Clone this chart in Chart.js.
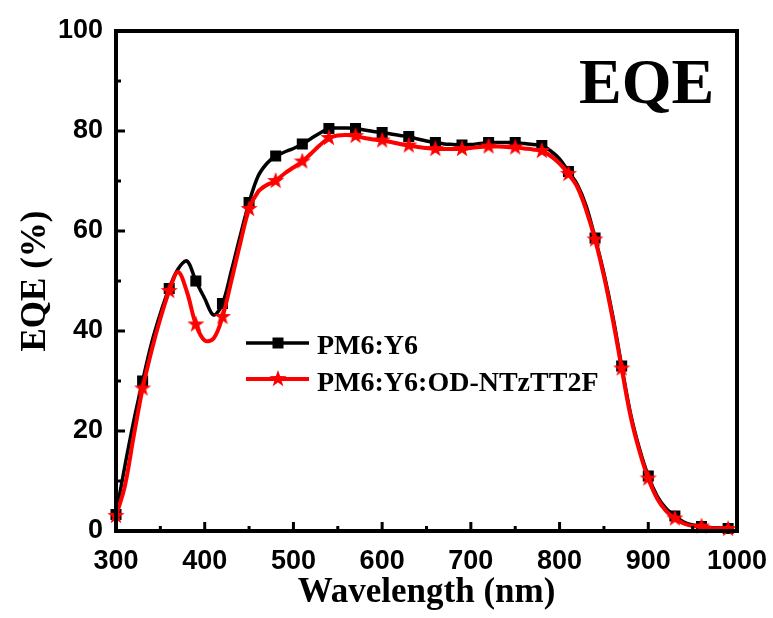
<!DOCTYPE html>
<html>
<head>
<meta charset="utf-8">
<script src="https://cdn.jsdelivr.net/npm/chart.js@4.4.1/dist/chart.umd.min.js"></script>
<style>
  html, body { margin: 0; background: #fff; }
  #wrap { width: 773px; height: 618px; }
</style>
</head>
<body>
<div id="wrap"><canvas id="eqeChart"></canvas></div>
<script>
// wavelength (nm) and EQE (%), 10 nm steps
const wavelengths = [300, 310, 320, 330, 340, 350, 360, 370, 380, 390,
  400, 410, 420, 430, 440, 450, 460, 470, 480, 490,
  500, 510, 520, 530, 540, 550, 560, 570, 580, 590,
  600, 610, 620, 630, 640, 650, 660, 670, 680, 690,
  700, 710, 720, 730, 740, 750, 760, 770, 780, 790,
  800, 810, 820, 830, 840, 850, 860, 870, 880, 890,
  900, 910, 920, 930, 940, 950, 960, 970, 980, 990];
const eqeBinary = [3.3, 13, 22, 30, 37.5, 43.5, 48.5, 52.4, 54, 50,
  46.5, 43.2, 45.5, 52, 59, 65.7, 70.9, 73.5, 75, 75.8,
  76.5, 77.4, 78.5, 79.6, 80.5, 80.6, 80.6, 80.5, 80.2, 79.9,
  79.7, 79.4, 79.1, 78.9, 78.4, 78, 77.7, 77.4, 77.3, 77.2,
  77.3, 77.5, 77.7, 77.7, 77.7, 77.7, 77.5, 77.3, 77.1, 76,
  74.4, 71.9, 69.3, 65, 58.6, 51.5, 43, 33, 23.5, 16.5,
  11, 7, 4.5, 3, 1.8, 1.2, 0.9, 0.7, 0.6, 0.5];
const eqeTernary = [3, 9, 19, 28.5, 36, 42.5, 48, 51.8, 47.8, 41.3,
  38.1, 38.5, 42.8, 50, 57.5, 64.4, 67.8, 69.2, 70, 71.5,
  72.7, 73.9, 75.5, 77.2, 78.6, 79.1, 79.2, 79, 78.6, 78.3,
  78.1, 77.8, 77.4, 77.1, 76.8, 76.6, 76.4, 76.4, 76.4, 76.4,
  76.6, 76.8, 76.9, 76.9, 76.8, 76.7, 76.5, 76.3, 76, 75,
  73.5, 71.4, 68.8, 64.2, 58.3, 51, 42.3, 32.5, 23, 16,
  10.5, 6.5, 4, 2.5, 1.5, 1, 0.9, 0.6, 0.5, 0.4];
const seriesNames = ["PM6:Y6", "PM6:Y6:OD-NTzTT2F"];
const xRange = [300, 1000];
const yRange = [0, 100];

const serif = "'Liberation Serif', 'Times New Roman', serif";
const sans = "'Liberation Sans', Arial, sans-serif";

function makeStar(size, color) {
  const c = document.createElement("canvas");
  c.width = c.height = size;
  const g = c.getContext("2d");
  g.fillStyle = color;
  g.beginPath();
  for (let i = 0; i < 10; i++) {
    const r = i % 2 ? size * 0.2 : size / 2;
    const a = -Math.PI / 2 + i * Math.PI / 5;
    g.lineTo(size / 2 + r * Math.cos(a), size / 2 + r * Math.sin(a));
  }
  g.closePath();
  g.fill();
  return c;
}
const star = makeStar(18, "#ff0000");

// markers only on every third point (30 nm)
const every3 = r => ctx => (ctx.dataIndex % 3 === 0 ? r : 0);

const toPoints = ys => wavelengths.map((x, i) => ({ x, y: ys[i] }));

const frame = {
  id: "frame",
  afterDraw(chart) {
    const { ctx, chartArea: a, scales: { x, y } } = chart;
    ctx.save();
    ctx.strokeStyle = "#000";
    ctx.lineWidth = 3;
    for (let v = xRange[0]; v <= xRange[1]; v += 50) {
      const px = x.getPixelForValue(v);
      const len = v % 100 === 0 ? 9 : 5;
      ctx.beginPath(); ctx.moveTo(px, a.bottom); ctx.lineTo(px, a.bottom - len); ctx.stroke();
    }
    for (let v = yRange[0]; v <= yRange[1]; v += 10) {
      const py = y.getPixelForValue(v);
      const len = v % 20 === 0 ? 9 : 5;
      ctx.beginPath(); ctx.moveTo(a.left, py); ctx.lineTo(a.left + len, py); ctx.stroke();
    }
    ctx.lineWidth = 4;
    ctx.strokeRect(a.left, a.top, a.right - a.left, a.bottom - a.top);

    // legend
    ctx.lineWidth = 3.5;
    ctx.strokeStyle = "#000";
    ctx.beginPath(); ctx.moveTo(246, 343); ctx.lineTo(309, 343); ctx.stroke();
    ctx.fillStyle = "#000";
    ctx.fillRect(272.5, 337.5, 11, 11);
    ctx.lineWidth = 4;
    ctx.strokeStyle = "#ff0000";
    ctx.beginPath(); ctx.moveTo(246, 379); ctx.lineTo(309, 379); ctx.stroke();
    ctx.drawImage(star, 278 - 9, 379 - 9);
    ctx.fillStyle = "#000";
    ctx.font = "bold 28px " + serif;
    ctx.textBaseline = "alphabetic";
    ctx.textAlign = "left";
    ctx.fillText(seriesNames[0], 317, 354);
    ctx.fillText(seriesNames[1], 317, 391);

    ctx.font = "bold 64px " + serif;
    ctx.fillText("EQE", 579, 103);
    ctx.restore();
  }
};

new Chart(document.getElementById("eqeChart"), {
  type: "line",
  data: {
    datasets: [
      {
        label: seriesNames[0],
        data: toPoints(eqeBinary),
        borderColor: "#000",
        backgroundColor: "#000",
        borderWidth: 3.5,
        pointStyle: "rect",
        pointRadius: every3(7.8),
        pointBorderWidth: 0,
        tension: 0.35,
        order: 2,
        clip: false
      },
      {
        label: seriesNames[1],
        data: toPoints(eqeTernary),
        borderColor: "#ff0000",
        backgroundColor: "#ff0000",
        borderWidth: 4,
        pointStyle: star,
        pointRadius: every3(8),
        tension: 0.35,
        order: 1,
        clip: false
      }
    ]
  },
  options: {
    responsive: true,
    maintainAspectRatio: false,
    animation: false,
    layout: { padding: { top: 31, right: 36, left: 0, bottom: 0 } },
    plugins: { legend: { display: false }, tooltip: { enabled: false } },
    scales: {
      x: {
        type: "linear",
        min: xRange[0],
        max: xRange[1],
        grid: { display: false },
        border: { display: false },
        ticks: { stepSize: 100, padding: 6, color: "#000", callback: v => String(v), font: { family: sans, size: 27, weight: "bold" } },
        title: { display: true, text: "Wavelength (nm)", color: "#000", padding: { top: 0, bottom: 4 }, font: { family: serif, size: 35, weight: "bold" } },
        afterFit(s) { s.height = 87; s.paddingLeft = 0; s.paddingRight = 0; }
      },
      y: {
        min: yRange[0],
        max: yRange[1],
        grid: { display: false },
        border: { display: false },
        ticks: { stepSize: 20, padding: 5, color: "#000", callback: v => String(v), font: { family: sans, size: 27, weight: "bold" } },
        title: { display: true, text: "EQE (%)", color: "#000", padding: { top: 15, bottom: 0 }, font: { family: serif, size: 35, weight: "bold" } },
        afterFit(s) { s.width = 116; s.paddingTop = 0; s.paddingBottom = 0; }
      }
    }
  },
  plugins: [frame]
});
</script>
</body>
</html>
